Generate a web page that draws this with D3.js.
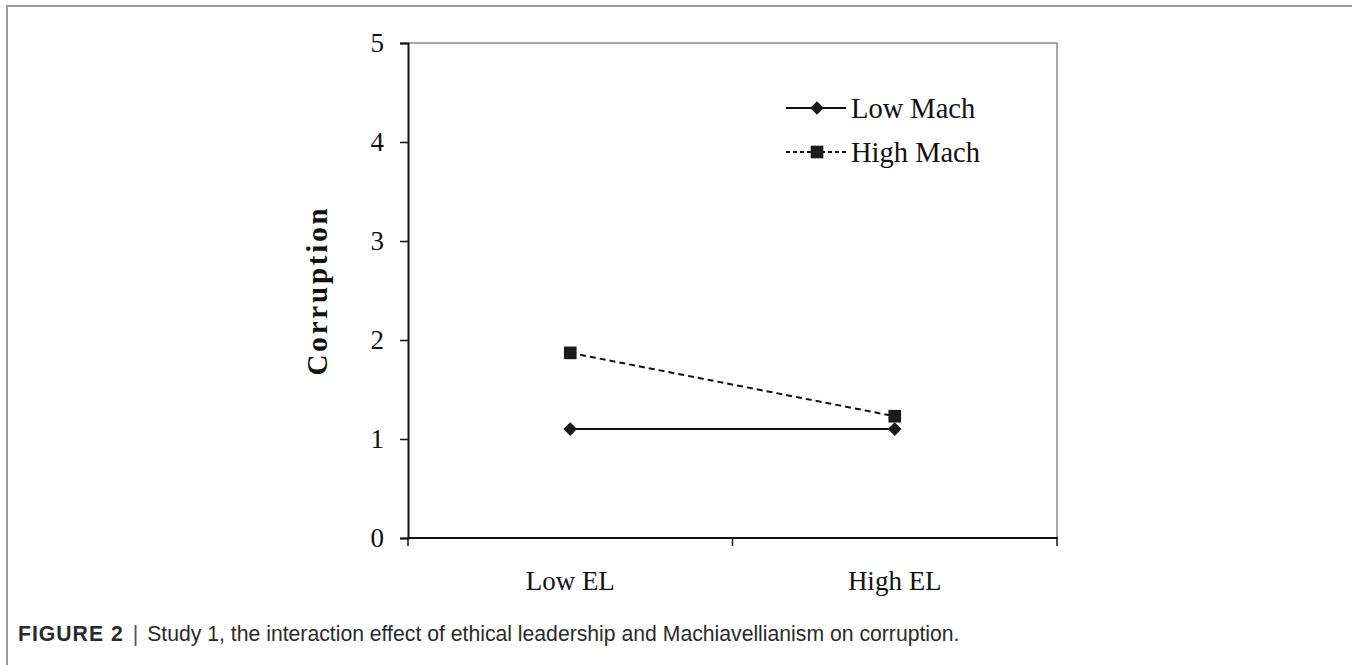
<!DOCTYPE html>
<html>
<head>
<meta charset="utf-8">
<script src="https://cdn.jsdelivr.net/npm/d3@7"></script>
<style>
  body { margin: 0; background: #fff; }
  svg { display: block; }
  .tick text { font-family: "Liberation Serif", serif; fill: #111; }
</style>
</head>
<body>
<svg id="chart" width="1352" height="665"></svg>
<script>
// data
const categories = ["Low EL", "High EL"];
const lowMach = [1.1, 1.1];
const highMach = [1.87, 1.23];
const yTicks = [0, 1, 2, 3, 4, 5];
const seriesNames = ["Low Mach", "High Mach"];

const svg = d3.select("#chart");

// figure frame (runs off the right and bottom of the window)
svg.append("path")
  .attr("d", "M 7,665 L 7,6 L 1352,6")
  .attr("fill", "none")
  .attr("stroke", "#9a9a9a")
  .attr("stroke-width", 2);

const plotL = 408, plotR = 1057, plotT = 43, plotB = 538;

let x = d3.scaleBand().domain(categories).range([plotL, plotR]);
let y = d3.scaleLinear().domain([0, 5]).range([plotB, plotT]);
let cx = d => x(d) + x.bandwidth() / 2;

// plot area border (top/right light grey)
svg.append("path")
  .attr("d", `M ${plotL},${plotT} L ${plotR},${plotT} L ${plotR},${plotB}`)
  .attr("fill", "none")
  .attr("stroke", "#8c8c8c")
  .attr("stroke-width", 1.5);

// y axis
let yAxis = svg.append("g")
  .attr("transform", `translate(${plotL},0)`)
  .call(d3.axisLeft(y).tickValues(yTicks).tickSize(8).tickPadding(16).tickFormat(d3.format("d")));
yAxis.select(".domain").attr("stroke", "#111").attr("stroke-width", 2);
yAxis.selectAll(".tick line").attr("stroke", "#111").attr("stroke-width", 1.5);
yAxis.selectAll(".tick text").attr("font-size", 27);

// x axis: labels centred in bands, ticks on band edges
let xAxis = svg.append("g")
  .attr("transform", `translate(0,${plotB})`)
  .call(d3.axisBottom(x).tickSize(0).tickPadding(33));
xAxis.select(".domain").remove();
xAxis.selectAll(".tick text").attr("font-size", 27);

svg.append("line")
  .attr("x1", plotL - 1).attr("x2", plotR + 1)
  .attr("y1", plotB).attr("y2", plotB)
  .attr("stroke", "#111").attr("stroke-width", 2);

let edges = [x.range()[0]].concat(categories.map(d => x(d) + x.bandwidth()));
svg.selectAll(".xedge")
  .data(edges)
  .enter()
  .append("line")
  .attr("class", "xedge")
  .attr("x1", d => d).attr("x2", d => d)
  .attr("y1", plotB).attr("y2", plotB + 8)
  .attr("stroke", "#111").attr("stroke-width", 1.5);

// y title
svg.append("text")
  .attr("transform", `translate(327,${(plotT + plotB) / 2}) rotate(-90)`)
  .attr("text-anchor", "middle")
  .attr("font-family", "Liberation Serif, serif")
  .attr("font-weight", "bold")
  .attr("font-size", 29)
  .attr("letter-spacing", 2.8)
  .attr("fill", "#111")
  .text("Corruption");

// lines
let line = d3.line().x((d, i) => cx(categories[i])).y(d => y(d));

svg.append("path")
  .datum(lowMach)
  .attr("d", line)
  .attr("fill", "none")
  .attr("stroke", "#111")
  .attr("stroke-width", 2);

svg.append("path")
  .datum(highMach)
  .attr("d", line)
  .attr("fill", "none")
  .attr("stroke", "#111")
  .attr("stroke-width", 2)
  .attr("stroke-dasharray", "6,4");

let diamond = d3.symbol().type(d3.symbolDiamond2).size(120);
let square = d3.symbol().type(d3.symbolSquare).size(160);

svg.selectAll(".lowpt")
  .data(lowMach)
  .enter()
  .append("path")
  .attr("class", "lowpt")
  .attr("d", diamond)
  .attr("transform", (d, i) => `translate(${cx(categories[i])},${y(d)})`)
  .attr("fill", "#1a1a1a");

svg.selectAll(".highpt")
  .data(highMach)
  .enter()
  .append("path")
  .attr("class", "highpt")
  .attr("d", square)
  .attr("transform", (d, i) => `translate(${cx(categories[i])},${y(d)})`)
  .attr("fill", "#1a1a1a");

// legend
let legend = svg.append("g").attr("transform", "translate(786,108)");
let rows = legend.selectAll("g")
  .data(seriesNames)
  .enter()
  .append("g")
  .attr("transform", (d, i) => `translate(0,${i * 44})`);

rows.append("line")
  .attr("x1", 0).attr("x2", 60)
  .attr("stroke", "#111").attr("stroke-width", 2)
  .attr("stroke-dasharray", (d, i) => i == 1 ? "4,3" : null);

rows.append("path")
  .attr("d", (d, i) => i == 0 ? diamond() : square())
  .attr("transform", "translate(31,0)")
  .attr("fill", "#1a1a1a");

rows.append("text")
  .attr("x", 65)
  .attr("dy", "0.35em")
  .attr("font-family", "Liberation Serif, serif")
  .attr("font-size", 28.5)
  .attr("fill", "#111")
  .text(d => d);

// caption
let cap = svg.append("text")
  .attr("x", 18)
  .attr("y", 641)
  .attr("font-family", "Liberation Sans, Arial, sans-serif")
  .attr("font-size", 21.2)
  .attr("fill", "#2a2a2a");
cap.append("tspan").attr("font-weight", "bold").attr("letter-spacing", 1).text("FIGURE 2");
cap.append("tspan").attr("dx", 9).attr("fill", "#555").text("|");
cap.append("tspan").attr("dx", 9)
  .text("Study 1, the interaction effect of ethical leadership and Machiavellianism on corruption.");
</script>
</body>
</html>
